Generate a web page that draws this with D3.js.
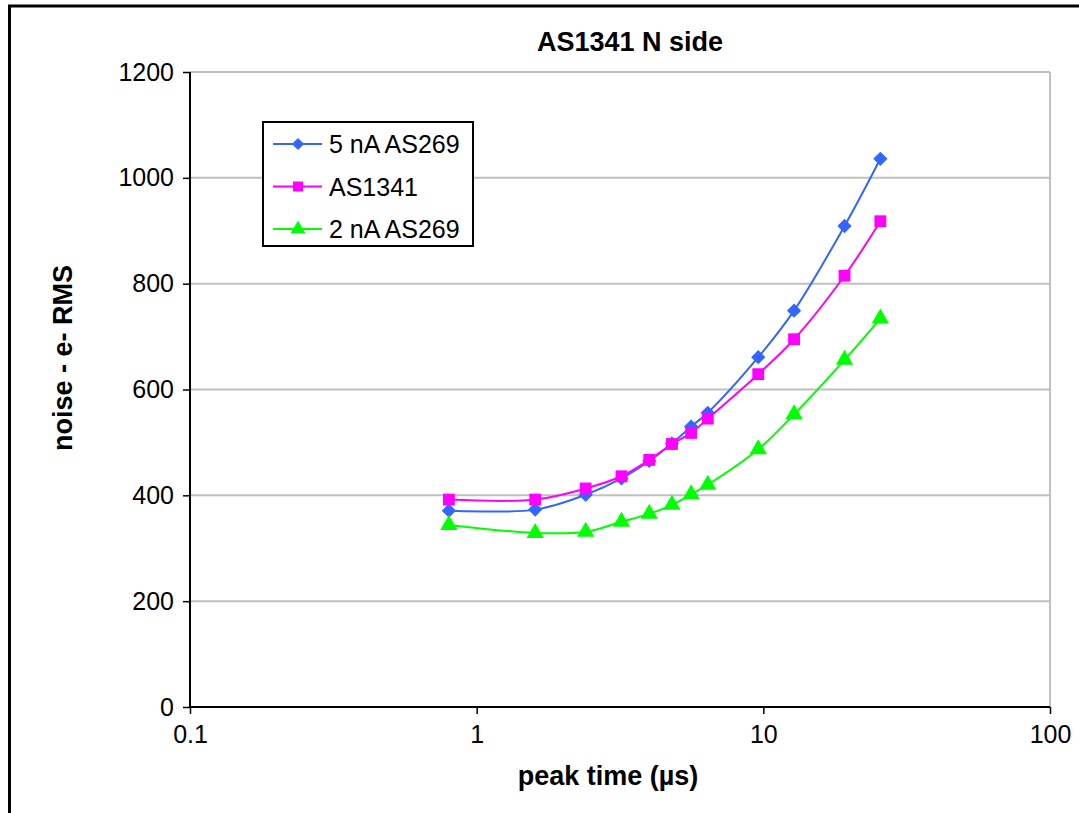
<!DOCTYPE html>
<meta charset="utf-8">
<style>
body { margin: 0; background: #fff; }
text { font-family: 'Liberation Sans', Arial, sans-serif; fill: #000; }
</style>
<body>
<svg id="chart"></svg>
<script src="https://d3js.org/d3.v7.min.js"></script>
<script>
// peak times (us)
var peakTimes = [0.8, 1.6, 2.4, 3.2, 4, 4.8, 5.6, 6.4, 9.6, 12.8, 19.2, 25.6];

// noise, e- RMS
var noise5nA  = [371, 373, 401, 432, 465, 498, 530, 556, 661, 749, 909, 1036];
var noiseAS1341 = [392, 392, 413, 436, 467, 497, 518, 545, 629, 695, 815, 918];
var noise2nA  = [344, 329, 331, 350, 365, 382, 402, 420, 487, 553, 656, 734];

var seriesNames = ["5 nA AS269", "AS1341", "2 nA AS269"];
var xTicks = [0.1, 1, 10, 100];
var yTicks = [0, 200, 400, 600, 800, 1000, 1200];

var series = [
  {name: seriesNames[0], values: noise5nA, color: "#3366ff", shape: d3.symbolDiamond2},
  {name: seriesNames[1], values: noiseAS1341, color: "#ff00ff", shape: d3.symbolSquare},
  {name: seriesNames[2], values: noise2nA, color: "#00ff00", shape: d3.symbolTriangle}
];

var W = 1079, H = 813;
var margin = {top: 72, right: 29, bottom: 106, left: 190},
    width = W - margin.left - margin.right,
    height = H - margin.top - margin.bottom;

var svg = d3.select("#chart").attr("width", W).attr("height", H);

// outer chart border
svg.append("rect")
    .attr("x", 9.5).attr("y", 6)
    .attr("width", W + 10).attr("height", H + 10)
    .attr("fill", "none").attr("stroke", "#000").attr("stroke-width", 3);

var x = d3.scaleLog().domain([0.1, 100]).range([0, width]);
var y = d3.scaleLinear().domain([0, 1200]).range([height, 0]);

var g = svg.append("g").attr("transform", "translate(" + margin.left + "," + margin.top + ")");

// gridlines
g.selectAll(".grid").data(yTicks.slice(1))
  .enter().append("line")
    .attr("x1", 0).attr("x2", width)
    .attr("y1", function(d) { return y(d); }).attr("y2", function(d) { return y(d); })
    .attr("stroke", "#c0c0c0").attr("stroke-width", 2);

// right edge of plot area
g.append("line")
    .attr("x1", width).attr("x2", width).attr("y1", 0).attr("y2", height)
    .attr("stroke", "#c0c0c0").attr("stroke-width", 2);

// axes
var xAxis = d3.axisBottom(x).tickValues(xTicks).tickSize(7).tickPadding(11)
    .tickFormat(function(d) { return String(d); });
var yAxis = d3.axisLeft(y).tickValues(yTicks).tickSize(7).tickPadding(9)
    .tickFormat(d3.format("d"));

var gx = g.append("g").attr("transform", "translate(0," + height + ")").call(xAxis);
var gy = g.append("g").call(yAxis);

[gx, gy].forEach(function(a) {
  a.select(".domain").attr("stroke", "#000").attr("stroke-width", 2);
  a.selectAll(".tick line").attr("stroke", "#000").attr("stroke-width", 1.5);
  a.selectAll(".tick text").attr("font-size", "25px").attr("font-family", "'Liberation Sans', Arial, sans-serif");
});
gx.select(".domain").attr("d", "M0,0H" + width);
gy.select(".domain").attr("d", "M0," + height + "V0");

// lines + markers
var line = d3.line()
    .x(function(d) { return x(d[0]); })
    .y(function(d) { return y(d[1]); })
    .curve(d3.curveCatmullRom.alpha(0.5));

series.forEach(function(s) {
  var pts = peakTimes.map(function(t, i) { return [t, s.values[i]]; });
  g.append("path")
      .datum(pts)
      .attr("d", line)
      .attr("fill", "none")
      .attr("stroke", s.color)
      .attr("stroke-width", 2);
  g.selectAll(null).data(pts)
    .enter().append("path")
      .attr("transform", function(d) { return "translate(" + x(d[0]) + "," + y(d[1]) + ")"; })
      .attr("d", d3.symbol().type(s.shape).size(s.shape === d3.symbolSquare ? 140 : 130))
      .attr("fill", s.color);
});

// title and axis labels
svg.append("text")
    .attr("x", 630).attr("y", 51)
    .attr("text-anchor", "middle")
    .attr("font-size", "27px").attr("font-weight", "bold")
    .text("AS1341 N side");

svg.append("text")
    .attr("x", 608).attr("y", 785)
    .attr("text-anchor", "middle")
    .attr("font-size", "27px").attr("font-weight", "bold")
    .text("peak time (\u00b5s)");

svg.append("text")
    .attr("transform", "translate(72,358) rotate(-90)")
    .attr("text-anchor", "middle")
    .attr("font-size", "27px").attr("font-weight", "bold")
    .text("noise - e- RMS");

// legend
var legend = svg.append("g").attr("transform", "translate(263,122)");
legend.append("rect")
    .attr("width", 210).attr("height", 124)
    .attr("fill", "#fff").attr("stroke", "#000").attr("stroke-width", 2);

var rows = legend.selectAll(".row").data(series)
  .enter().append("g")
    .attr("transform", function(d, i) { return "translate(0," + (22 + i * 42.5) + ")"; });
rows.append("line")
    .attr("x1", 10).attr("x2", 59)
    .attr("stroke", function(d) { return d.color; }).attr("stroke-width", 2);
rows.append("path")
    .attr("transform", "translate(35,0)")
    .attr("d", function(d) { return d3.symbol().type(d.shape).size(d.shape === d3.symbolSquare ? 100 : 95)(); })
    .attr("fill", function(d) { return d.color; });
rows.append("text")
    .attr("x", 66).attr("dy", "0.36em")
    .attr("font-size", "25px")
    .text(function(d) { return d.name; });
</script>
</body>
